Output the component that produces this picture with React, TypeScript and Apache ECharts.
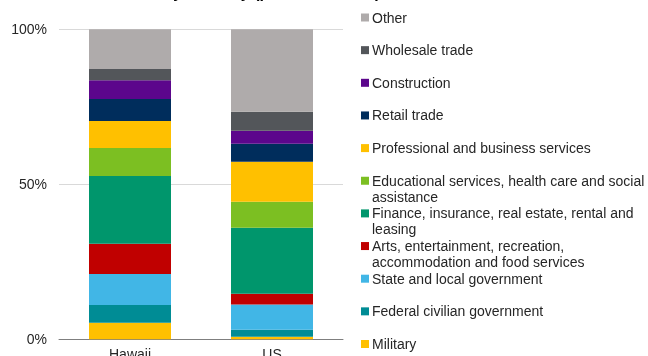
import React, { useEffect, useRef } from "react";
import * as echarts from "echarts";

// Bar categories (x axis)
const regions = ["Hawaii", "US"];

// Industries, bottom of the stack first
const industries = [
  "Military",
  "Federal civilian government",
  "State and local government",
  "Arts, entertainment, recreation, accommodation and food services",
  "Finance, insurance, real estate, rental and leasing",
  "Educational services, health care and social assistance",
  "Professional and business services",
  "Retail trade",
  "Construction",
  "Wholesale trade",
  "Other",
];

// Legend text with manual line breaks, same order as industries
const legendLabels = [
  "Military",
  "Federal civilian government",
  "State and local government",
  "Arts, entertainment, recreation,\naccommodation and food services",
  "Finance, insurance, real estate, rental and\nleasing",
  "Educational services, health care and social\nassistance",
  "Professional and business services",
  "Retail trade",
  "Construction",
  "Wholesale trade",
  "Other",
];

// Share of total (%), same order as industries
const hawaiiShares = [5.3, 5.8, 10.0, 9.7, 21.9, 9.0, 8.7, 7.1, 6.1, 3.6, 12.8];
const usShares = [0.8, 2.3, 8.1, 3.5, 21.3, 8.4, 12.9, 5.8, 4.2, 6.1, 26.6];

const industryColors = [
  "#FFC000",
  "#008C95",
  "#41B6E6",
  "#C00000",
  "#00966C",
  "#7CBF22",
  "#FFC000",
  "#002D5C",
  "#5C068C",
  "#53565A",
  "#AFABAB",
];

const yTicks = [0, 50, 100];

const FONT = "'Liberation Sans', Arial, sans-serif";

export default function App() {
  const ref = useRef<HTMLDivElement>(null);

  useEffect(() => {
    if (!ref.current) return;
    const chart = echarts.init(ref.current, null, { renderer: "svg" });

    const series = industries.map((name, i) => ({
      name,
      type: "bar",
      stack: "total",
      barWidth: 82,
      itemStyle: { color: industryColors[i] },
      data: [hawaiiShares[i], usShares[i]],
    }));

    // Legend drawn top-down (reverse of stacking order), fixed slot per entry
    const legendItems: any[] = [];
    const order = industries.map((_, i) => industries.length - 1 - i);
    order.forEach((idx, row) => {
      const cy = 17.5 + row * 32.65;
      legendItems.push({
        type: "rect",
        shape: { x: 361, y: cy - 4, width: 8, height: 8 },
        style: { fill: industryColors[idx] },
      });
      legendItems.push({
        type: "text",
        style: {
          x: 372,
          y: cy - 8,
          text: legendLabels[idx],
          font: `14px ${FONT}`,
          lineHeight: 16,
          fill: "#262626",
          verticalAlign: "top",
          align: "left",
        },
      });
    });

    chart.setOption({
      animation: false,
      textStyle: { fontFamily: FONT },
      grid: {
        left: 59,
        right: 305,
        top: 29.3,
        bottom: 16.7,
        containLabel: false,
        outerBoundsMode: "none",
      },
      xAxis: {
        type: "category",
        data: regions,
        axisLine: { lineStyle: { color: "#7F7F7F", width: 1 } },
        axisTick: { show: false },
        axisLabel: { color: "#262626", fontSize: 14, margin: 8, fontFamily: FONT },
      },
      yAxis: {
        type: "value",
        min: yTicks[0],
        max: yTicks[yTicks.length - 1],
        interval: yTicks[1] - yTicks[0],
        axisLine: { show: false },
        axisTick: { show: false },
        axisLabel: {
          color: "#262626",
          fontSize: 14,
          margin: 12,
          fontFamily: FONT,
          formatter: "{value}%",
        },
        splitLine: { lineStyle: { color: "#D9D9D9", width: 1 } },
      },
      graphic: [
        {
          type: "text",
          style: {
            x: 10,
            y: 0.5,
            text: "Hawaii and US GDP by industry (percent of total)",
            font: `bold 16px ${FONT}`,
            fill: "#000000",
            verticalAlign: "bottom",
          },
        },
        ...legendItems,
      ],
      series,
    });

    return () => chart.dispose();
  }, []);

  return (
    <div
      ref={ref}
      style={{ position: "fixed", left: 0, top: 0, width: 648, height: 356 }}
    />
  );
}
